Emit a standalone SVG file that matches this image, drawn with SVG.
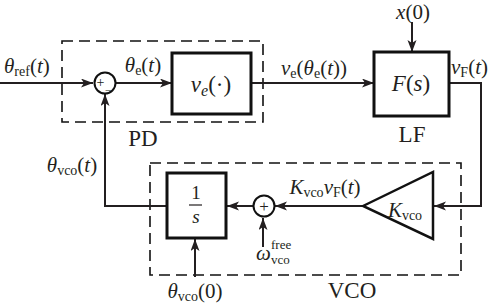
<svg xmlns="http://www.w3.org/2000/svg" width="498" height="306" viewBox="0 0 498 306">
<defs>
<style>
.ln{fill:none;stroke:#231f20;stroke-width:2}
.box{fill:#fff;stroke:#111;stroke-width:3}
.dash{fill:none;stroke:#111;stroke-width:1.6;stroke-dasharray:11 6}
.sum{fill:#fff;stroke:#111;stroke-width:2}
text{font-family:"Liberation Serif","DejaVu Serif",serif;fill:#231f20}
.m{font-size:21px}
.i{font-style:italic}
.sub{font-size:14px}
.lab{font-size:23px}
</style>
<marker id="ar" markerWidth="13" markerHeight="10" refX="12" refY="4.5" orient="auto" markerUnits="userSpaceOnUse">
<path d="M0,0 L12,4.5 L0,9 L3,4.5 z" fill="#231f20"/>
</marker>
</defs>
<rect width="498" height="306" fill="#fff"/>
<g id="pd-box"><rect class="dash" x="62" y="41" width="201" height="81"/><text class="lab" x="143" y="146" text-anchor="middle">PD</text></g>
<g id="vco-box"><rect class="dash" x="150" y="163" width="311" height="112"/><text class="lab" x="352" y="298" text-anchor="middle">VCO</text></g>
<g id="connectors">
<path class="ln" d="M0,83 H93" marker-end="url(#ar)"/>
<path class="ln" d="M115,83 H172" marker-end="url(#ar)"/>
<path class="ln" d="M251,83 H374" marker-end="url(#ar)"/>
<path class="ln" d="M412,22 V52" marker-end="url(#ar)"/>
<path class="ln" d="M449,83 H481 V206 H434" marker-end="url(#ar)"/>
<path class="ln" d="M363,206 H275" marker-end="url(#ar)"/>
<path class="ln" d="M253,206 H227" marker-end="url(#ar)"/>
<path class="ln" d="M167,206 H105 V94" marker-end="url(#ar)"/>
<path class="ln" d="M195,277 V239" marker-end="url(#ar)"/>
<path class="ln" d="M263,247 V218" marker-end="url(#ar)"/>
</g>
<g id="sum1"><circle class="sum" cx="105" cy="83" r="10.5"/><text font-size="14"><tspan x="96.5" y="87">+</tspan><tspan x="104.8" y="93.5" font-size="11">−</tspan></text></g>
<g id="ve"><rect class="box" x="172" y="53" width="79" height="61"/><text x="211" y="92" text-anchor="middle" font-size="23"><tspan class="i">v</tspan><tspan class="i" font-size="16" dy="4">e</tspan><tspan dy="-4">(·)</tspan></text></g>
<g id="lf"><rect class="box" x="374" y="52" width="75" height="64"/><text x="411" y="91" text-anchor="middle" font-size="23"><tspan class="i">F</tspan>(<tspan class="i">s</tspan>)</text><text class="lab" x="412" y="142" text-anchor="middle">LF</text></g>
<g id="int"><rect class="box" x="167" y="173" width="59" height="65"/><text x="196" y="199" text-anchor="middle" font-size="19">1</text><line x1="189" y1="205" x2="202" y2="205" stroke="#231f20" stroke-width="1.2"/><text x="196" y="223" text-anchor="middle" font-size="19" class="i">s</text></g>
<g id="gain"><path d="M363,206 L433,172 L433,239 Z" fill="#fff" stroke="#111" stroke-width="2.5"/><text x="405" y="217" text-anchor="middle" font-size="21"><tspan class="i">K</tspan><tspan font-size="14" dy="3">vco</tspan></text></g>
<g id="sum2"><circle class="sum" cx="264" cy="206" r="10.5"/><text x="264" y="211.5" font-size="17" text-anchor="middle">+</text></g>
<g id="labels">
<text class="m" x="4" y="73"><tspan class="i">θ</tspan><tspan class="sub" dy="3">ref</tspan><tspan dy="-3">(</tspan><tspan class="i">t</tspan>)</text>
<text class="m" x="143" y="72" text-anchor="middle"><tspan class="i">θ</tspan><tspan class="sub" dy="3">e</tspan><tspan dy="-3">(</tspan><tspan class="i">t</tspan>)</text>
<text class="m" x="314" y="75" text-anchor="middle"><tspan class="i">v</tspan><tspan class="sub" dy="3">e</tspan><tspan dy="-3">(</tspan><tspan class="i">θ</tspan><tspan class="sub" dy="3">e</tspan><tspan dy="-3">(</tspan><tspan class="i">t</tspan>))</text>
<text class="m" x="413" y="19" text-anchor="middle"><tspan class="i">x</tspan>(0)</text>
<text class="m" x="451" y="74"><tspan class="i">v</tspan><tspan class="sub" dy="3">F</tspan><tspan dy="-3">(</tspan><tspan class="i">t</tspan>)</text>
<text class="m" x="72" y="172" text-anchor="middle"><tspan class="i">θ</tspan><tspan class="sub" dy="3">vco</tspan><tspan dy="-3">(</tspan><tspan class="i">t</tspan>)</text>
<text class="m" x="325" y="194" text-anchor="middle"><tspan class="i">K</tspan><tspan class="sub" dy="3">vco</tspan><tspan class="i" dy="-3">v</tspan><tspan class="sub" dy="3">F</tspan><tspan dy="-3">(</tspan><tspan class="i">t</tspan>)</text>
<text class="m" x="195" y="298" text-anchor="middle"><tspan class="i">θ</tspan><tspan class="sub" dy="3">vco</tspan><tspan dy="-3">(0)</tspan></text>
<text font-size="21"><tspan class="i" x="256" y="260">ω</tspan><tspan font-size="13" x="271" y="249">free</tspan><tspan font-size="13" x="271" y="264">vco</tspan></text>
</g>
</svg>
